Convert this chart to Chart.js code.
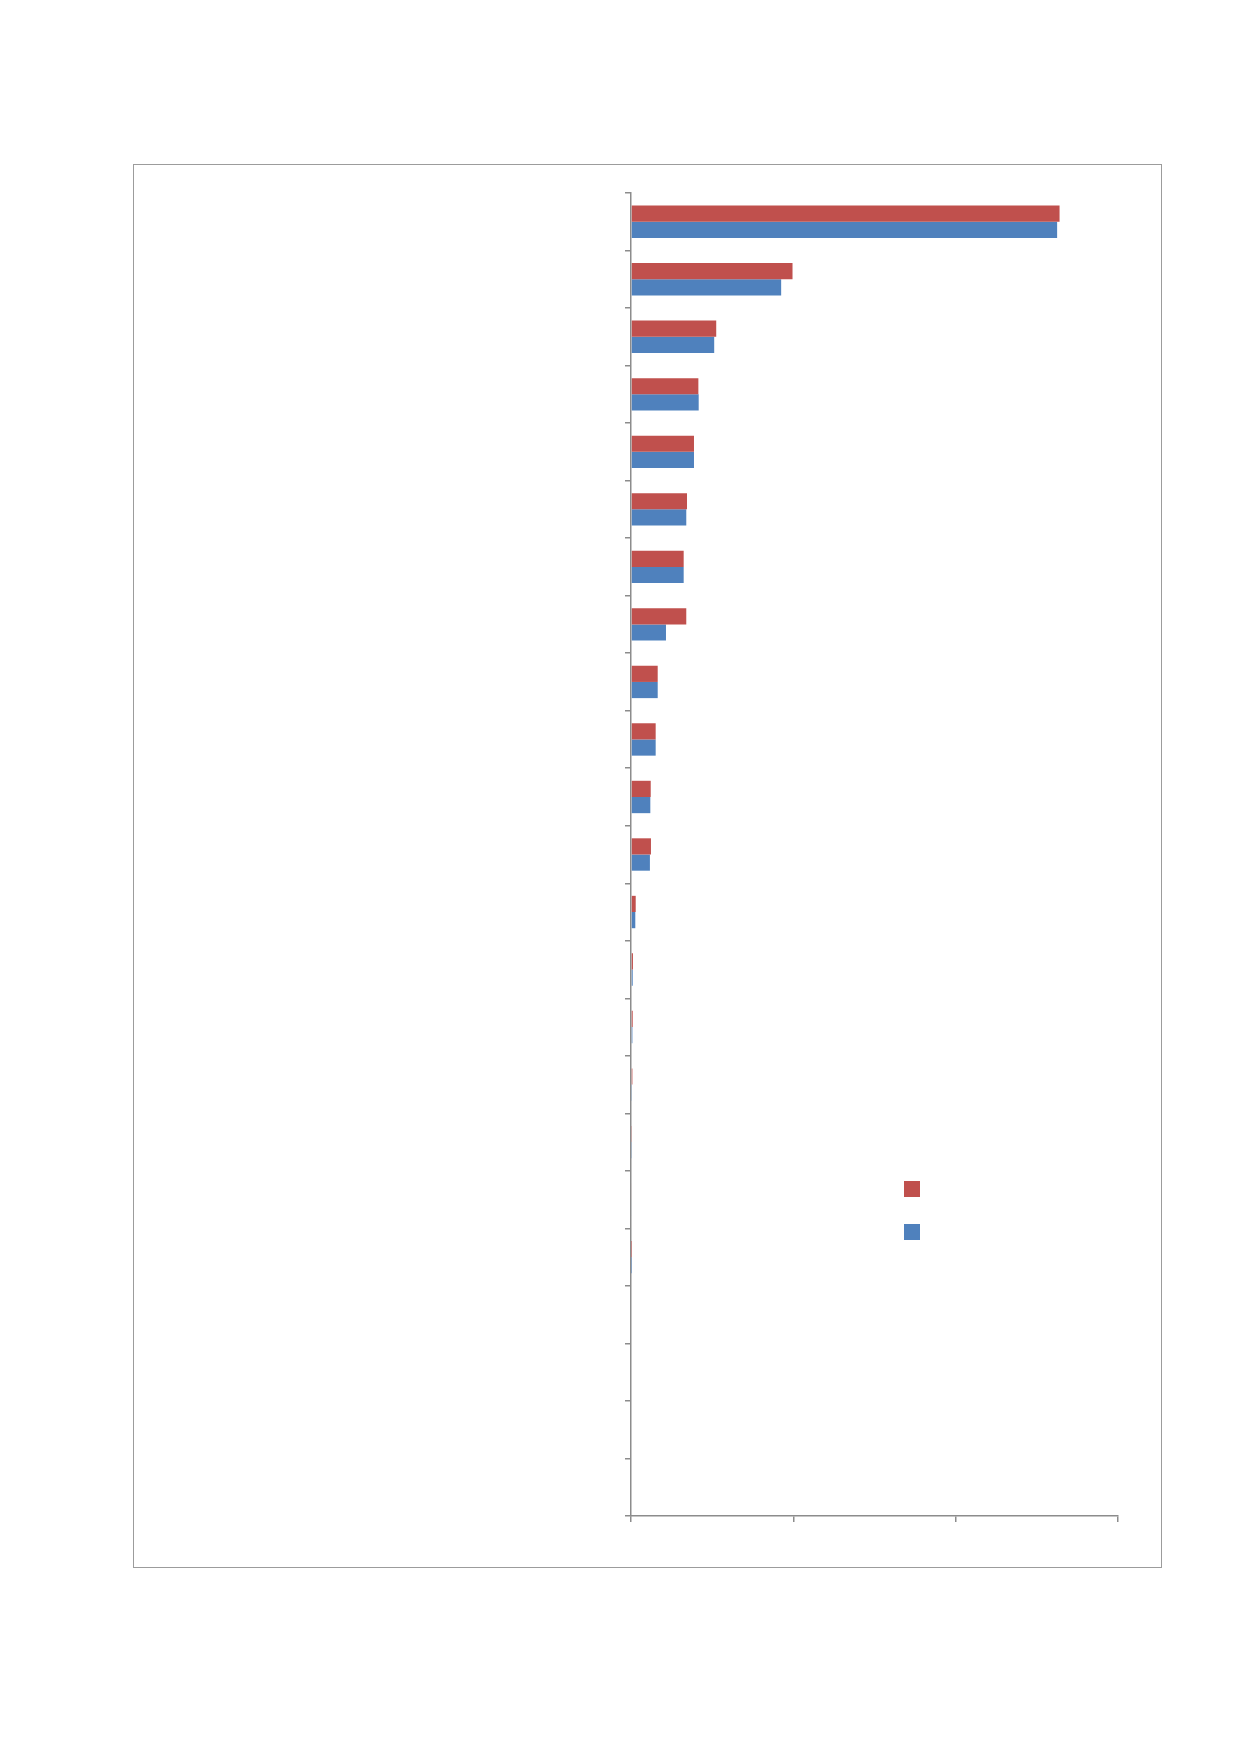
<!DOCTYPE html>
<html>
<head>
<meta charset="utf-8">
<script src="https://cdn.jsdelivr.net/npm/chart.js@4.4.0/dist/chart.umd.min.js"></script>
<style>
  html, body { margin: 0; padding: 0; background: #fff; }
  #frame {
    position: absolute;
    left: 133px; top: 164px;
    width: 1027px; height: 1402px;
    border: 1.5px solid #9c9c9c;
  }
  #chart { position: absolute; left: 0; top: 0; }
</style>
</head>
<body>
<div id="frame"></div>
<canvas id="chart" width="1239" height="1754"></canvas>
<script>
// the source chart shows no text at all: categories and series names are blank
const categories = ["", "", "", "", "", "", "", "", "", "", "", "",
                    "", "", "", "", "", "", "", "", "", "", ""]
const redValues = [528, 199, 105, 83, 77.6, 69, 64.9, 68.1, 32.9, 30.4, 24.3, 24.6,
                   5.8, 2.4, 2.1, 1.7, 1.2, 0.9, 0.3, 0, 0, 0, 0]
const blueValues = [525, 185, 102.5, 83.4, 77.6, 68.1, 64.9, 43.1, 32.9, 30.4, 23.8, 23.3,
                    5.3, 2.1, 1.7, 1.2, 1.2, 0.9, 0.3, 0, 0, 0, 0]
const xTicks = [0, 200, 400, 600]

const RED = "#C0504D"
const BLUE = "#4F81BD"
const AXIS = "#8c8c8c"

// legend squares with no text, drawn inside the plot like the original
const squareLegend = {
  id: "squareLegend",
  afterDraw(chart) {
    const ctx = chart.ctx
    ctx.save()
    chart.data.datasets.forEach((ds, i) => {
      ctx.fillStyle = ds.backgroundColor
      ctx.fillRect(904, 1181 + i * 43, 16, 16)
    })
    ctx.restore()
  }
}

document.addEventListener("DOMContentLoaded", () => {
  const ctx = document.getElementById("chart")

  new Chart(ctx, {
    type: "bar",
    data: {
      labels: categories,
      datasets: [
        { label: "", data: redValues, backgroundColor: RED, borderWidth: 0 },
        { label: "", data: blueValues, backgroundColor: BLUE, borderWidth: 0 },
      ],
    },
    options: {
      indexAxis: "y",
      responsive: false,
      animation: false,
      devicePixelRatio: 1,
      categoryPercentage: 0.563,
      barPercentage: 1.0,
      layout: {
        padding: { left: 625, top: 193, right: 121, bottom: 232 },
      },
      plugins: {
        legend: { display: false },
        tooltip: { enabled: false },
      },
      scales: {
        x: {
          type: "linear",
          min: xTicks[0],
          max: xTicks[xTicks.length - 1],
          afterBuildTicks: (axis) => { axis.ticks = xTicks.map(v => ({ value: v })) },
          ticks: { display: false },
          grid: {
            drawOnChartArea: false,
            drawTicks: true,
            tickLength: 6,
            color: AXIS,
            lineWidth: 1.5,
          },
          border: { display: true, color: AXIS, width: 1.5 },
        },
        y: {
          ticks: { display: false },
          grid: {
            offset: true,
            drawOnChartArea: false,
            drawTicks: true,
            tickLength: 6,
            color: AXIS,
            lineWidth: 1.5,
          },
          border: { display: true, color: AXIS, width: 1.5 },
        },
      },
    },
    plugins: [squareLegend],
  })
})
</script>
</body>
</html>
